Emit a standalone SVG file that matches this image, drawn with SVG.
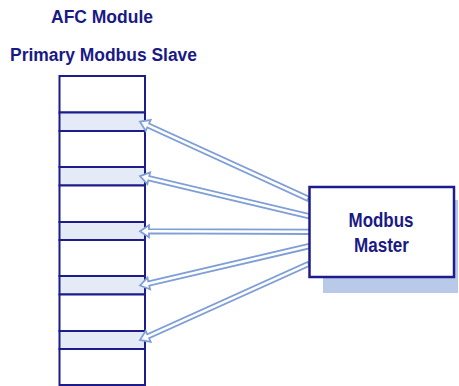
<svg xmlns="http://www.w3.org/2000/svg" width="459" height="386" viewBox="0 0 459 386">
<style>
.t{font-family:"Liberation Sans",Arial,sans-serif;font-weight:bold;fill:#1a1a85;text-anchor:middle}
.cell{fill:#ffffff;stroke:#1c1c8c;stroke-width:2}
.reg{fill:#e4ebf6;stroke:#1c1c8c;stroke-width:2}
.arr{fill:#ffffff;stroke:#7f9fd6;stroke-width:1.8;stroke-linejoin:miter}
</style>
<rect width="459" height="386" fill="#ffffff"/>
<g id="title">
<text class="t" x="102" y="23" font-size="18" textLength="102" lengthAdjust="spacingAndGlyphs">AFC Module</text>
<text class="t" x="103.5" y="61" font-size="18" textLength="187" lengthAdjust="spacingAndGlyphs">Primary Modbus Slave</text>
</g>
<g id="slave">
<rect class="cell" x="59.5" y="76" width="85.5" height="36.5"/>
<rect class="reg" x="59.5" y="112.5" width="85.5" height="18.5"/>
<rect class="cell" x="59.5" y="131" width="85.5" height="36"/>
<rect class="reg" x="59.5" y="167" width="85.5" height="18.5"/>
<rect class="cell" x="59.5" y="185.5" width="85.5" height="36.5"/>
<rect class="reg" x="59.5" y="222" width="85.5" height="18"/>
<rect class="cell" x="59.5" y="240" width="85.5" height="36"/>
<rect class="reg" x="59.5" y="276" width="85.5" height="18.5"/>
<rect class="cell" x="59.5" y="294.5" width="85.5" height="36.5"/>
<rect class="reg" x="59.5" y="331" width="85.5" height="18"/>
<rect class="cell" x="59.5" y="349" width="85.5" height="36"/>
</g>
<g id="connectors">
<polygon class="arr" transform="translate(140,121.7) rotate(24.6)" points="0,0 9,-6 9,-2.2 185,-2.2 185,2.2 9,2.2 9,6"/>
<polygon class="arr" transform="translate(140,176.2) rotate(13.3)" points="0,0 9,-6 9,-2.2 174,-2.2 174,2.2 9,2.2 9,6"/>
<polygon class="arr" transform="translate(140,231.2) rotate(0.2)" points="0,0 9,-6 9,-2.2 170,-2.2 170,2.2 9,2.2 9,6"/>
<polygon class="arr" transform="translate(140,285.5) rotate(-13.1)" points="0,0 9,-6 9,-2.2 174,-2.2 174,2.2 9,2.2 9,6"/>
<polygon class="arr" transform="translate(140,340) rotate(-24.3)" points="0,0 9,-6 9,-2.2 185,-2.2 185,2.2 9,2.2 9,6"/>
</g>
<g id="master">
<rect x="323" y="200" width="135" height="93" fill="#b8c9e9"/>
<rect x="309.5" y="187" width="144.5" height="90" fill="#ffffff" stroke="#1c1c8c" stroke-width="2.5"/>
<text class="t" x="381" y="226.5" font-size="21" textLength="65" lengthAdjust="spacingAndGlyphs">Modbus</text>
<text class="t" x="381.5" y="252" font-size="20" textLength="55" lengthAdjust="spacingAndGlyphs">Master</text>
</g>
</svg>
